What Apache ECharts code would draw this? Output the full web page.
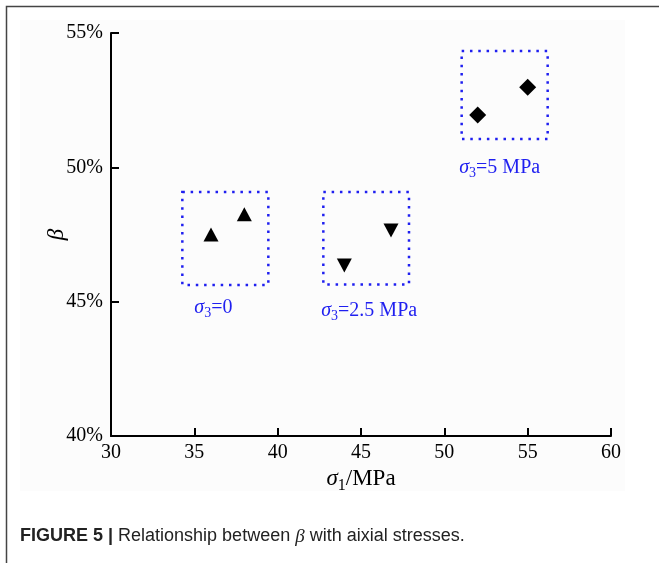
<!DOCTYPE html>
<html>
<head>
<meta charset="utf-8">
<script src="https://cdn.jsdelivr.net/npm/echarts@6/dist/echarts.min.js"></script>
<style>
  html, body { margin: 0; padding: 0; background: #ffffff; }
  #chart { width: 659px; height: 563px; }
</style>
</head>
<body>
<div id="chart"></div>
<script>
// Axial stress sigma1 (MPa) and beta (%) for each confining pressure group
const group0X = [36, 38];
const group0Y = [47.5, 48.25];
const group25X = [44, 46.8];
const group25Y = [46.35, 47.65];
const group5X = [52, 55];
const group5Y = [51.95, 52.98];

// Dotted frames around each group: [xMin, yMax, xMax, yMin]
const group0Box = [34.28, 49.08, 39.44, 45.62];
const group25Box = [42.74, 49.08, 47.88, 45.64];
const group5Box = [51.04, 54.33, 56.2, 51.05];

// Group captions (sigma3 value text)
const groupNames = ['0', '2.5 MPa', '5 MPa'];

// Axis ranges and tick steps
const xRange = [30, 60];
const xStep = 5;
const yRange = [40, 55];
const yStep = 5;

const serif = '"Liberation Serif", "Times New Roman", serif';
const sans = '"Liberation Sans", Arial, sans-serif';
const blue = '#1f1ff0';

function pairs(xs, ys) {
  return xs.map((x, i) => [x, ys[i]]);
}

function sigmaRich(size, color) {
  return {
    s: { fontFamily: serif, fontStyle: 'italic', fontSize: size, color: color, lineHeight: size + 6, verticalAlign: 'middle' },
    sub: { fontFamily: serif, fontSize: Math.round(size * 0.68), color: color, lineHeight: 12, verticalAlign: 'bottom' },
    n: { fontFamily: serif, fontSize: size, color: color, lineHeight: size + 6, verticalAlign: 'middle' }
  };
}

// Per-frame caption offsets below each frame
const captionOffsets = [[-12, -1], [3, 3], [-5, 5]];

function boxArea(box, name, offset) {
  return [
    {
      coord: [box[0], box[1]],
      label: {
        show: true,
        position: 'bottom',
        distance: 9,
        offset: offset,
        formatter: '{s|σ}{sub|3}{n|=' + name + '}',
        rich: sigmaRich(20, blue)
      }
    },
    { coord: [box[2], box[3]] }
  ];
}

const frameStyle = { color: 'transparent', borderColor: blue, borderWidth: 2.5, borderType: [2.5, 5.8] };

const chart = echarts.init(document.getElementById('chart'), null, { renderer: 'canvas' });

chart.setOption({
  animation: false,
  backgroundColor: '#ffffff',
  graphic: [
    {
      type: 'rect',
      z: -10,
      silent: true,
      shape: { x: 20, y: 20, width: 605, height: 471 },
      style: { fill: '#fcfcfc' }
    },
    {
      type: 'polyline',
      silent: true,
      shape: { points: [[6.5, 563], [6.5, 6.5], [659, 6.5]] },
      style: { stroke: '#444444', lineWidth: 1.5, fill: null }
    },
    {
      type: 'text',
      left: 20,
      top: 527,
      silent: true,
      style: {
        text: '{b|FIGURE 5 | }{r|Relationship between }{g|β}{r| with aixial stresses.}',
        rich: {
          b: { fontFamily: sans, fontWeight: 'bold', fontSize: 18, fill: '#222222' },
          r: { fontFamily: sans, fontSize: 18, fill: '#222222' },
          g: { fontFamily: serif, fontStyle: 'italic', fontSize: 19, fill: '#222222' }
        }
      }
    }
  ],
  grid: { left: 111, right: 48, top: 33, bottom: 127, containLabel: false },
  xAxis: {
    type: 'value',
    min: xRange[0],
    max: xRange[1],
    interval: xStep,
    splitLine: { show: false },
    axisLine: { show: true, lineStyle: { color: '#000', width: 2 } },
    axisTick: { show: true, inside: true, length: 8, lineStyle: { color: '#000', width: 2 } },
    axisLabel: { margin: 7, fontFamily: serif, fontSize: 20, color: '#000' },
    name: '{s|σ}{sub|1}{n|/MPa}',
    nameLocation: 'middle',
    nameGap: 28,
    nameTextStyle: { rich: sigmaRich(23, '#000') }
  },
  yAxis: {
    type: 'value',
    min: yRange[0],
    max: yRange[1],
    interval: yStep,
    splitLine: { show: false },
    axisLine: { show: true, lineStyle: { color: '#000', width: 2 } },
    axisTick: { show: true, inside: true, length: 8, lineStyle: { color: '#000', width: 2 } },
    axisLabel: { margin: 8, fontFamily: serif, fontSize: 20, color: '#000', formatter: '{value}%' },
    name: 'β',
    nameLocation: 'middle',
    nameRotate: 90,
    nameGap: 43,
    nameMoveOverlap: false,
    nameTextStyle: { fontFamily: serif, fontStyle: 'italic', fontSize: 23, color: '#000' }
  },
  series: [
    {
      name: 'σ3=0',
      type: 'scatter',
      symbol: 'triangle',
      symbolSize: [15, 14],
      itemStyle: { color: '#000', opacity: 1 },
      data: pairs(group0X, group0Y),
      markArea: { silent: true, itemStyle: frameStyle, data: [boxArea(group0Box, groupNames[0], captionOffsets[0])] }
    },
    {
      name: 'σ3=2.5 MPa',
      type: 'scatter',
      symbol: 'triangle',
      symbolRotate: 180,
      symbolSize: [15, 14],
      itemStyle: { color: '#000', opacity: 1 },
      data: pairs(group25X, group25Y),
      markArea: { silent: true, itemStyle: frameStyle, data: [boxArea(group25Box, groupNames[1], captionOffsets[1])] }
    },
    {
      name: 'σ3=5 MPa',
      type: 'scatter',
      symbol: 'diamond',
      symbolSize: 17,
      itemStyle: { color: '#000', opacity: 1 },
      data: pairs(group5X, group5Y),
      markArea: { silent: true, itemStyle: frameStyle, data: [boxArea(group5Box, groupNames[2], captionOffsets[2])] }
    }
  ]
});
</script>
</body>
</html>
